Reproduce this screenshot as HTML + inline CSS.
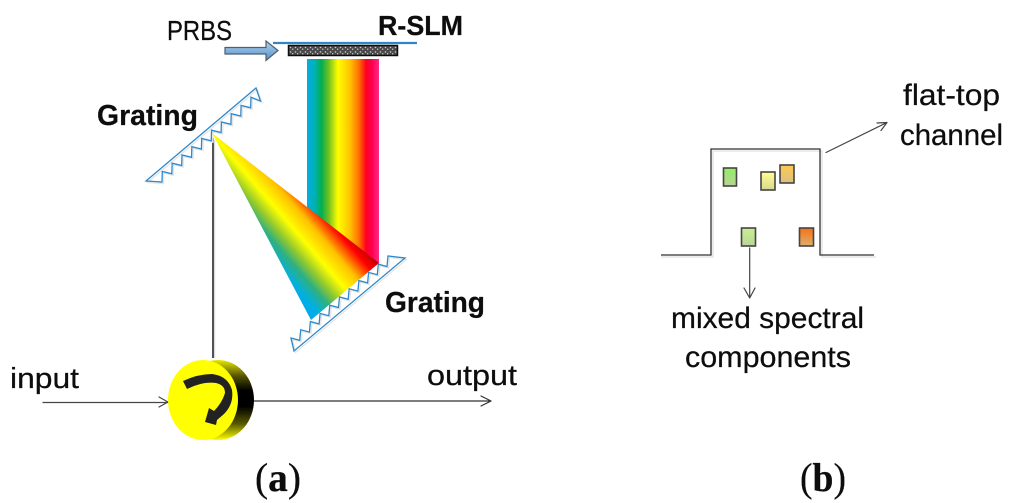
<!DOCTYPE html>
<html><head><meta charset="utf-8"><style>
html,body{margin:0;padding:0;background:#fff;width:1024px;height:503px;overflow:hidden}
svg{display:block}
text{font-family:"Liberation Sans",sans-serif;fill:#111;stroke:#111;stroke-width:.25}
</style></head><body>
<svg width="1024" height="503" viewBox="0 0 1024 503" xmlns="http://www.w3.org/2000/svg">
<defs>
<filter id="b" x="-5%" y="-5%" width="110%" height="110%"><feGaussianBlur stdDeviation="0.3"/></filter>
<filter id="t" x="-5%" y="-20%" width="110%" height="140%"><feGaussianBlur stdDeviation="0.3"/></filter>
<linearGradient id="rb" x1="0" y1="0" x2="1" y2="0">
<stop offset="0" stop-color="#00b0e0"/><stop offset="0.1" stop-color="#00b0b8"/><stop offset="0.2" stop-color="#00b050"/><stop offset="0.3" stop-color="#70c020"/><stop offset="0.43" stop-color="#ffff00"/><stop offset="0.6" stop-color="#ffc000"/><stop offset="0.72" stop-color="#ff7000"/><stop offset="0.82" stop-color="#ff0020"/><stop offset="0.9" stop-color="#ff0050"/><stop offset="1" stop-color="#ff2a80"/>
</linearGradient>
<linearGradient id="fan" gradientUnits="userSpaceOnUse" x1="178.4" y1="165.8" x2="245.6" y2="108">
<stop offset="0" stop-color="#00a8f0"/><stop offset="0.12" stop-color="#00b0e0"/><stop offset="0.26" stop-color="#30b080"/><stop offset="0.37" stop-color="#90c830"/><stop offset="0.52" stop-color="#ffff00"/><stop offset="0.7" stop-color="#ffc000"/><stop offset="0.88" stop-color="#ff0000"/><stop offset="1" stop-color="#c00000"/>
</linearGradient>
<linearGradient id="ab" x1="0" y1="0" x2="0" y2="1"><stop offset="0" stop-color="#b4d4ee"/><stop offset="1" stop-color="#4f90c8"/></linearGradient>
<linearGradient id="side" x1="0" y1="0" x2="0" y2="1">
<stop offset="0" stop-color="#e8e800"/><stop offset="0.2" stop-color="#555500"/><stop offset="0.38" stop-color="#000"/><stop offset="0.58" stop-color="#000"/><stop offset="0.8" stop-color="#5a5a00"/><stop offset="1" stop-color="#ffff00"/>
</linearGradient>
<linearGradient id="g1" x1="0" y1="0" x2="0" y2="1"><stop offset="0" stop-color="#90f060"/><stop offset="1" stop-color="#bcd09a"/></linearGradient>
<linearGradient id="g2" x1="0" y1="0" x2="0" y2="1"><stop offset="0" stop-color="#ffff90"/><stop offset="1" stop-color="#d8d890"/></linearGradient>
<linearGradient id="g3" x1="0" y1="0" x2="0" y2="1"><stop offset="0" stop-color="#ffc850"/><stop offset="1" stop-color="#dcc080"/></linearGradient>
<linearGradient id="g4" x1="0" y1="0" x2="0" y2="1"><stop offset="0" stop-color="#c8f090"/><stop offset="1" stop-color="#bcd49a"/></linearGradient>
<linearGradient id="g5" x1="0" y1="0" x2="0" y2="1"><stop offset="0" stop-color="#f87010"/><stop offset="1" stop-color="#dcb070"/></linearGradient>
<pattern id="dots" x="289" y="46" width="5" height="4.5" patternUnits="userSpaceOnUse"><rect width="5" height="4.5" fill="#4a4a4a"/><rect x="0.8" y="0.8" width="1.4" height="1.3" fill="#d0d0d0"/><rect x="3" y="2.6" width="1.3" height="1.3" fill="#c0c0c0"/></pattern>
</defs>

<g filter="url(#b)">
<!-- SLM -->
<line x1="273" y1="43" x2="417" y2="43" stroke="#2f86cc" stroke-width="2.2"/>
<rect x="288.5" y="45.5" width="109" height="10" fill="url(#dots)" stroke="#111" stroke-width="1.5"/>
<!-- PRBS arrow -->
<polygon points="225,47.5 266,47.5 266,41 278,50.5 266,60.5 266,54 225,54" fill="url(#ab)" stroke="#4d5f70" stroke-width="1.2"/>
<!-- rainbow -->
<rect x="307" y="59" width="72" height="204" fill="url(#rb)"/>
<!-- input vertical -->
<line x1="214.6" y1="140" x2="214.6" y2="358" stroke="#ddd" stroke-width="1.2"/>
<line x1="213" y1="138" x2="213" y2="358" stroke="#111" stroke-width="1.4"/>
<!-- fan -->
<polygon points="212,133 379,263 311,320" fill="url(#fan)"/>
<!-- grating 1 -->
<polygon points="146,181 256,88 260.5,101 250.95,97.25 250.65,107.75 241.1,105.5 240.8,116 231.25,113.75 230.95,124.25 221.4,122 221.1,132.5 211.55,130.25 211.25,140.75 201.7,138.5 201.4,149 191.85,146.75 191.55,157.25 182,155 181.7,165.5 172.15,163.25 171.85,173.75 162.3,171.5 162,182" fill="none" stroke="#e4e4e4" stroke-width="1.3" transform="translate(1.5,1.5)"/>
<polygon points="146,181 256,88 260.5,101 250.95,97.25 250.65,107.75 241.1,105.5 240.8,116 231.25,113.75 230.95,124.25 221.4,122 221.1,132.5 211.55,130.25 211.25,140.75 201.7,138.5 201.4,149 191.85,146.75 191.55,157.25 182,155 181.7,165.5 172.15,163.25 171.85,173.75 162.3,171.5 162,182" fill="none" stroke="#2f88cc" stroke-width="1.3"/>
<!-- grating 2 -->
<polygon points="294,351 291,338 299.7,340.3 300.7,329.8 309.4,332.1 310.4,321.6 319.1,323.9 320.1,313.4 328.8,315.7 329.8,305.2 338.5,307.5 339.5,297 348.2,299.3 349.2,288.8 357.9,291.1 358.9,280.6 367.6,282.9 368.6,272.4 377.3,274.7 378.3,264.2 387,266.5 388,256 405,258" fill="none" stroke="#e4e4e4" stroke-width="1.3" transform="translate(1.5,1.5)"/>
<polygon points="294,351 291,338 299.7,340.3 300.7,329.8 309.4,332.1 310.4,321.6 319.1,323.9 320.1,313.4 328.8,315.7 329.8,305.2 338.5,307.5 339.5,297 348.2,299.3 349.2,288.8 357.9,291.1 358.9,280.6 367.6,282.9 368.6,272.4 377.3,274.7 378.3,264.2 387,266.5 388,256 405,258" fill="none" stroke="#2f88cc" stroke-width="1.3"/>
<!-- in/out -->
<g fill="none" stroke-linecap="round" stroke-linejoin="round">
<path d="M43,402.5H168M159,397L168,402L159,407" stroke="#444" stroke-width="1.2"/>
<path d="M254,401H491M481,396L491,401L481,406" stroke="#333" stroke-width="1.2"/>
</g>
<!-- circulator -->
<ellipse cx="218" cy="400" rx="36" ry="40" fill="url(#side)"/>
<ellipse cx="203" cy="400" rx="35" ry="40" fill="#ffff00"/>
<path d="M183,381 Q198,374 212,374 Q228,376 232,390 Q234,404 224,414 L217,420 L216,425 L205,422 L209,408 L214,411 Q222,403 225,393 Q225,385 216,383 Q203,381 187,389 Z" fill="#222"/>
<!-- panel b -->
<polyline points="661,257 713,257 713,151 822,151 822,257 876,257" fill="none" stroke="#e0e0e0" stroke-width="1.3"/>
<polyline points="661,255 711,255 711,149 820,149 820,255 874,255" fill="none" stroke="#333" stroke-width="1.3"/>
<g stroke="#444" stroke-width="1.6">
<rect x="723.5" y="168" width="13" height="18" fill="url(#g1)"/>
<rect x="761" y="172" width="14" height="18" fill="url(#g2)"/>
<rect x="780" y="165" width="14" height="18" fill="url(#g3)"/>
<rect x="741.5" y="228" width="14" height="18" fill="url(#g4)"/>
<rect x="799.5" y="228" width="14" height="18" fill="url(#g5)"/>
</g>
<g fill="none" stroke="#444" stroke-width="1.2" stroke-linecap="round" stroke-linejoin="round">
<path d="M826,152.5L887,122.5M877,123L887,122.5L881,130.5"/>
<path d="M749.7,248V298M744,288L749.7,298L755,288"/>
</g>
</g>

<g filter="url(#t)">
<text x="167" y="40" font-size="28" textLength="65" lengthAdjust="spacingAndGlyphs">PRBS</text>
<text x="378" y="35" font-size="28" font-weight="bold" textLength="85" lengthAdjust="spacingAndGlyphs">R-SLM</text>
<text x="97" y="125" font-size="29" font-weight="bold" textLength="101" lengthAdjust="spacingAndGlyphs">Grating</text>
<text x="385" y="312" font-size="29" font-weight="bold" textLength="100" lengthAdjust="spacingAndGlyphs">Grating</text>
<text x="10" y="388" font-size="29" textLength="69" lengthAdjust="spacingAndGlyphs">input</text>
<text x="427" y="385" font-size="29" textLength="90" lengthAdjust="spacingAndGlyphs">output</text>
<text x="903" y="105" font-size="30" textLength="97" lengthAdjust="spacingAndGlyphs">flat-top</text>
<text x="900" y="145" font-size="30" textLength="103" lengthAdjust="spacingAndGlyphs">channel</text>
<text x="671" y="328" font-size="30" textLength="193" lengthAdjust="spacingAndGlyphs">mixed spectral</text>
<text x="685" y="367" font-size="30" textLength="166" lengthAdjust="spacingAndGlyphs">components</text>
<text x="255" y="491" font-size="40" textLength="46" lengthAdjust="spacingAndGlyphs" style="font-family:'Liberation Serif',serif">(<tspan font-weight="bold">a</tspan>)</text>
<text x="800" y="491" font-size="40" textLength="46" lengthAdjust="spacingAndGlyphs" style="font-family:'Liberation Serif',serif">(<tspan font-weight="bold">b</tspan>)</text>
</g>
</svg>
</body></html>
